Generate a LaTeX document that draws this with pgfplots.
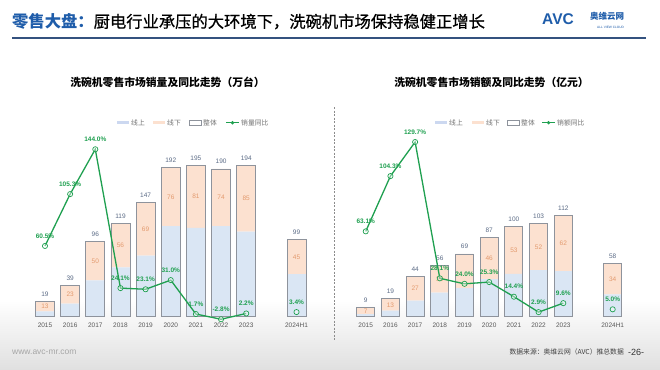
\documentclass[border=0pt]{standalone}
\usepackage{pgfplots}
\pgfplotsset{compat=1.18}
\usepackage{pgfplotstable}
\usepackage{fontspec}
\setmainfont{Noto Sans CJK SC}
\newfontfamily\cjkmed{Noto Sans CJK SC}[FakeBold=0.7]
\newfontfamily\latin{Liberation Sans}
\definecolor{onl}{HTML}{DAE6F4}
\definecolor{onlleg}{HTML}{CCD8F0}
\definecolor{offl}{HTML}{FCE1D0}
\definecolor{outl}{HTML}{8E939C}
\definecolor{grn}{HTML}{1FA050}
\definecolor{totc}{HTML}{5B6B86}
\definecolor{offc}{HTML}{E39A6E}
\definecolor{tblue}{HTML}{1F5DAA}
\definecolor{navy}{HTML}{34527F}

\pgfplotstableread{
x total off yoy
0 19 13 60.5
1 39 23 105.3
2 96 50 144.0
3 119 56 24.1
4 147 69 23.1
5 192 76 31.0
6 195 81 1.7
7 190 74 -2.8
8 194 85 2.2
10 99 45 3.4
}\leftdata

\pgfplotstableread{
x total off yoy
0 9 7 63.1
1 19 13 104.3
2 44 27 129.7
3 56 30 28.1
4 69 38 24.0
5 87 46 25.3
6 100 53 14.4
7 103 52 2.9
8 112 62 9.6
10 58 34 5.0
}\rightdata

\pgfplotsset{
  base/.style={scale only axis, height=176bp, xmin=-0.6, xmax=10.6, ymin=0,
    clip=false, axis line style={draw=none}, major tick length=0pt,
    ytick=\empty, enlargelimits=false, anchor=south west,
    /pgf/number format/assume math mode=true},
  tickstyle/.style={xtick={0,1,2,3,4,5,6,7,8,10},
    xticklabels={2015,2016,2017,2018,2019,2020,2021,2022,2023,2024H1},
    xticklabel style={font=\latin\fontsize{6.5bp}{7bp}\selectfont, text=black!65, yshift=-3.5bp}},
  totlab/.style={draw=none, mark=none, nodes near coords, point meta=y,
    nodes near coords style={font=\latin\fontsize{6.5bp}{7bp}\selectfont, text=totc, anchor=south, yshift=1.5bp}},
  offlab/.style={draw=none, mark=none, nodes near coords, point meta=explicit,
    nodes near coords style={font=\latin\fontsize{6.5bp}{7bp}\selectfont, text=offc, anchor=center}},
  yoyline/.style={grn, line width=1.3bp, mark=*, mark size=2.6bp,
    mark options={draw=grn, fill=white, fill opacity=0.4, line width=0.7bp},
    nodes near coords={\pgfmathprintnumber[fixed,fixed zerofill,precision=1]{\pgfplotspointmeta}\%},
    point meta=y,
    nodes near coords style={font=\latin\bfseries\fontsize{6.5bp}{7bp}\selectfont, text=grn, anchor=south, yshift=4bp, fill opacity=1, text opacity=1}},
}

\begin{document}
\begin{tikzpicture}
\begin{scope}[x=1bp,y=-1bp]
\fill[white] (0,0) rectangle (660,369);
\shade[top color=white, bottom color=black!12] (0,300) rectangle (660,369);
% title
\node[anchor=west, inner sep=0] at (12,21.5) {\fontsize{16.3bp}{18bp}\selectfont{\bfseries\color{tblue}零售大盘：}\color{black}\cjkmed 厨电行业承压的大环境下，洗碗机市场保持稳健正增长};
\draw[navy, line width=1.3bp] (12,38) -- (646,38);
% logo
\node[anchor=west, inner sep=0, text=tblue] at (542,19.5) {\latin\bfseries\fontsize{15.5bp}{16bp}\selectfont AVC};
\node[anchor=west, inner sep=0, text=tblue] at (590,16.5) {\bfseries\fontsize{8.5bp}{9bp}\selectfont 奥维云网};
\node[anchor=west, inner sep=0, text=tblue] at (597,27.5) {\latin\fontsize{3.2bp}{4bp}\selectfont ALL VIEW CLOUD};
% chart titles
\node[inner sep=0] at (167.5,82.7) {\bfseries\fontsize{10.8bp}{12bp}\selectfont 洗碗机零售市场销量及同比走势（万台）};
\node[inner sep=0] at (491.5,82.7) {\bfseries\fontsize{10.8bp}{12bp}\selectfont 洗碗机零售市场销额及同比走势（亿元）};
% legends
\begin{scope}[every node/.style={anchor=west, inner sep=0, text=black!55, font=\fontsize{6.8bp}{7bp}\selectfont}]
\fill[onlleg] (117,121.3) rectangle (129,124.1); \node at (131,122.7) {线上};
\fill[offl] (153,121.3) rectangle (165,124.1); \node at (167,122.7) {线下};
\draw[outl, line width=0.7bp] (189,120.5) rectangle (201,124.9); \node at (203,122.7) {整体};
\draw[grn, line width=1.2bp] (226,122.7) -- (239,122.7); \fill[grn] (232.5,122.7) circle (1.8); \node at (241,122.7) {销量同比};
\fill[onlleg] (435,121.3) rectangle (447,124.1); \node at (449,122.7) {线上};
\fill[offl] (472,121.3) rectangle (484,124.1); \node at (486,122.7) {线下};
\draw[outl, line width=0.7bp] (507,120.5) rectangle (519,124.9); \node at (521,122.7) {整体};
\draw[grn, line width=1.2bp] (542,122.7) -- (555,122.7); \fill[grn] (548.5,122.7) circle (1.8); \node at (557,122.7) {销额同比};
\end{scope}
% divider
\draw[black!45, line width=0.6bp, dash pattern=on 2bp off 1.5bp] (334.5,107) -- (334.5,340);
% footer
\node[anchor=west, inner sep=0, text=black!35] at (12,352) {\latin\fontsize{8.5bp}{9bp}\selectfont www.avc-mr.com};
\node[anchor=east, inner sep=0, text=black!75] at (624,352) {\fontsize{6.8bp}{7bp}\selectfont 数据来源：奥维云网（AVC）推总数据};
\node[anchor=west, inner sep=0, text=black!80] at (628,352) {\latin\fontsize{9bp}{10bp}\selectfont -26-};
\end{scope}

% ---------- left chart ----------
\begin{axis}[base, tickstyle, at={(29.9bp,-316bp)}, width=281.7bp, ymax=227.4, ybar stacked, bar width=19bp]
\addplot[fill=onl, draw=none] table[x=x, y expr=\thisrow{total}-\thisrow{off}] {\leftdata};
\addplot[fill=offl, draw=none] table[x=x, y=off] {\leftdata};
\end{axis}
\begin{axis}[base, hide axis, at={(29.9bp,-316bp)}, width=281.7bp, ymax=227.4]
\addplot[ybar, bar width=19bp, draw=outl, line width=0.9bp, fill=none] table[x=x, y=total] {\leftdata};
\addplot[totlab] table[x=x, y=total] {\leftdata};
\addplot[offlab] table[x=x, y expr=\thisrow{total}-\thisrow{off}/2, meta=off] {\leftdata};
\end{axis}
\begin{axis}[base, hide axis, at={(29.9bp,-316bp)}, width=281.7bp, ymax=152.0]
\addplot[yoyline, restrict x to domain=0:8] table[x=x, y=yoy] {\leftdata};
\addplot[yoyline, only marks, restrict x to domain=9:11] table[x=x, y=yoy] {\leftdata};
\end{axis}

% ---------- right chart ----------
\begin{axis}[base, tickstyle, at={(350.9bp,-316bp)}, width=276.6bp, ymax=195.8, ybar stacked, bar width=18bp]
\addplot[fill=onl, draw=none] table[x=x, y expr=\thisrow{total}-\thisrow{off}] {\rightdata};
\addplot[fill=offl, draw=none] table[x=x, y=off] {\rightdata};
\end{axis}
\begin{axis}[base, hide axis, at={(350.9bp,-316bp)}, width=276.6bp, ymax=195.8]
\addplot[ybar, bar width=18bp, draw=outl, line width=0.9bp, fill=none] table[x=x, y=total] {\rightdata};
\addplot[totlab] table[x=x, y=total] {\rightdata};
\addplot[offlab, x filter/.expression={x==4 ? nan : x}] table[x=x, y expr=\thisrow{total}-\thisrow{off}/2, meta=off] {\rightdata};
\end{axis}
\begin{axis}[base, hide axis, at={(350.9bp,-316bp)}, width=276.6bp, ymax=131.2]
\addplot[yoyline, restrict x to domain=0:8] table[x=x, y=yoy] {\rightdata};
\addplot[yoyline, only marks, restrict x to domain=9:11] table[x=x, y=yoy] {\rightdata};
\end{axis}
\end{tikzpicture}
\end{document}
